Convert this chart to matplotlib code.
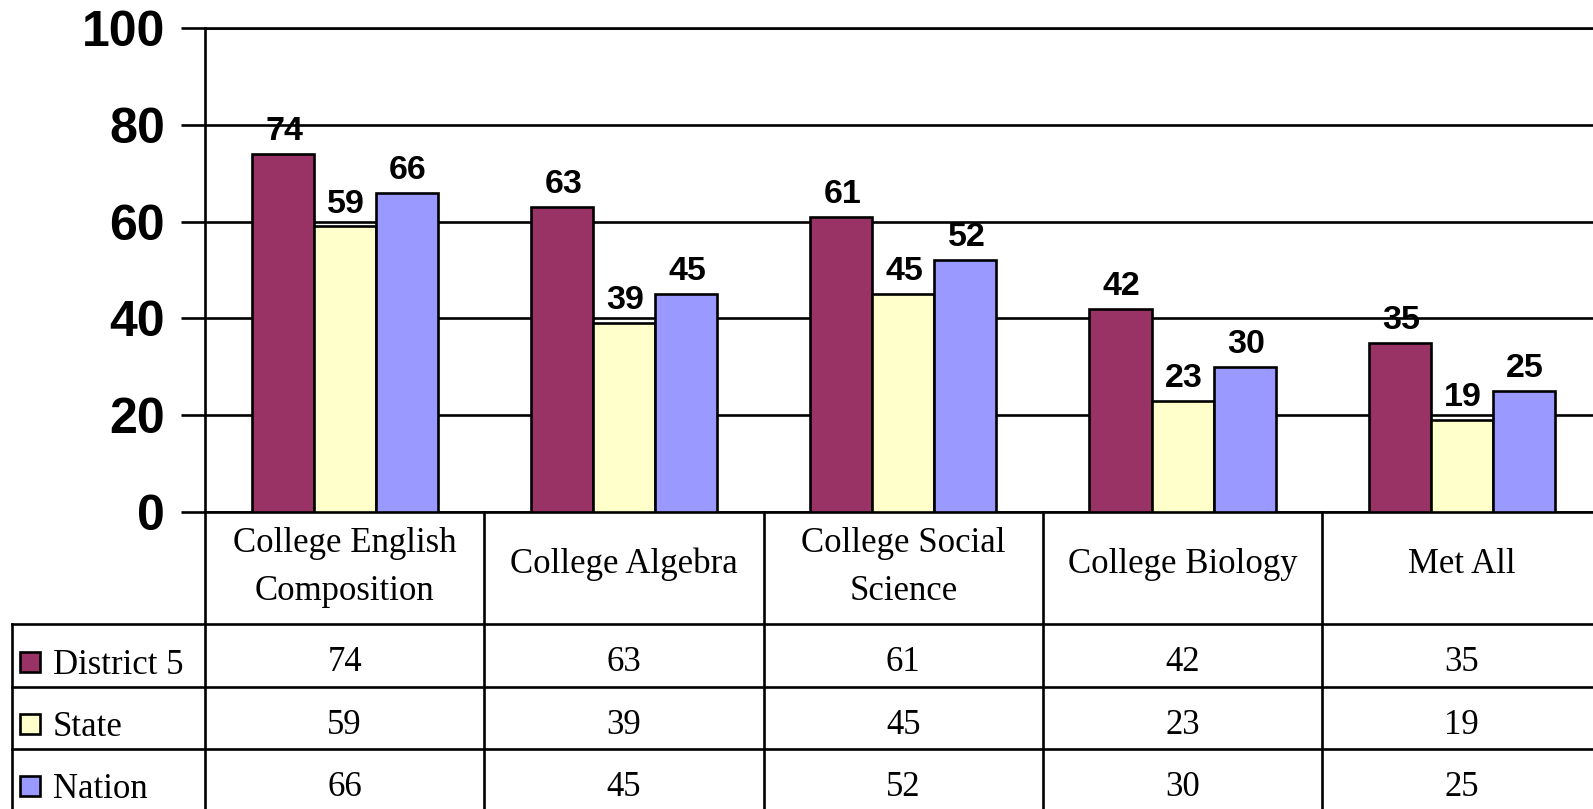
import matplotlib.pyplot as plt
from matplotlib.lines import Line2D
import numpy as np

# data
categories = ["College English\nComposition", "College Algebra",
              "College Social\nScience", "College Biology", "Met All"]
series_names = ["District 5", "State", "Nation"]
district = [74, 63, 61, 42, 35]
state = [59, 39, 45, 23, 19]
nation = [66, 45, 52, 30, 25]
yticks = [0, 20, 40, 60, 80, 100]

series = [district, state, nation]
colors = ["#993366", "#FFFFCC", "#9999FF"]

W, H = 1593, 809
fig = plt.figure(figsize=(W / 100, H / 100), dpi=100)

# layout in pixels (Excel style chart with data table below)
x0, col_w = 205, 279.3
y_top, y_zero = 28.3, 511.7
row_h, head_h = 62.3, 112.6
lab_w = 193
lw = 1.9

ax = fig.add_axes([x0 / W, 1 - y_zero / H, 5 * col_w / W, (y_zero - y_top) / H])

n = len(series)
bw = 1 / (n + 1.5)
x = np.arange(len(categories))
for k, (vals, c) in enumerate(zip(series, colors)):
    pos = x + (k - (n - 1) / 2) * bw
    ax.bar(pos, vals, bw, color=c, edgecolor="black", linewidth=lw, zorder=3)
    for px, v in zip(pos, vals):
        ax.annotate(str(v), (px, v), xytext=(1, 10), textcoords="offset points",
                    ha="center", va="baseline", fontsize=24.5, fontweight="bold",
                    family="Liberation Sans", zorder=5)

ax.set_xlim(-0.5, len(categories) - 0.5)
ax.set_ylim(0, 100)
ax.set_yticks(yticks)
ax.set_xticks([])
ax.yaxis.grid(True, color="black", linewidth=lw)
ax.set_axisbelow(True)
ax.tick_params(axis="y", length=17, width=lw, direction="out", pad=12, labelsize=36)
for t in ax.get_yticklabels():
    t.set_fontweight("bold")
    t.set_family("Liberation Sans")
for s in ["left", "bottom", "top"]:
    ax.spines[s].set_linewidth(lw)
    ax.spines[s].set_color("black")
ax.spines["right"].set_visible(False)

# data table
nrows = len(series)
hh = head_h / row_h
lab_u = lab_w / col_w
tot = hh + nrows
tab = fig.add_axes([(x0 - lab_w) / W, (H - y_zero - tot * row_h) / H,
                    (lab_w + 5 * col_w) / W, tot * row_h / H])
tab.set_xlim(-0.5 - lab_u, len(categories) - 0.5)
tab.set_ylim(tot, 0)
tab.axis("off")

xl, xr = -0.5 - lab_u, len(categories) - 0.5
for i in range(len(categories) + 1):
    tab.add_line(Line2D([i - 0.5, i - 0.5], [0, tot], color="black", lw=lw, clip_on=False))
tab.add_line(Line2D([xl, xl], [hh, tot], color="black", lw=lw, clip_on=False))
for r in range(nrows + 1):
    tab.add_line(Line2D([xl, xr], [hh + r, hh + r], color="black", lw=lw, clip_on=False))

serif = "Liberation Serif"
fs = 25
for i, cat in enumerate(categories):
    yc = 0.9 if "\n" in cat else 0.84
    tab.text(i, yc, cat, ha="center", va="center", fontsize=fs,
             family=serif, linespacing=1.6)

for r, (name, vals, c) in enumerate(zip(series_names, series, colors)):
    tab.plot(xl + 0.066, hh + r + 0.6, marker="s", ms=15, mfc=c, mec="black",
             mew=lw, clip_on=False)
    tab.text(xl + 41 / col_w, hh + r + 0.79, name, ha="left", va="baseline",
             fontsize=fs, family=serif)
    for i, v in enumerate(vals):
        tab.text(i, hh + r + 0.755, str(v), ha="center", va="baseline",
                 fontsize=fs, family=serif)

plt.savefig("out.png", dpi=100)
